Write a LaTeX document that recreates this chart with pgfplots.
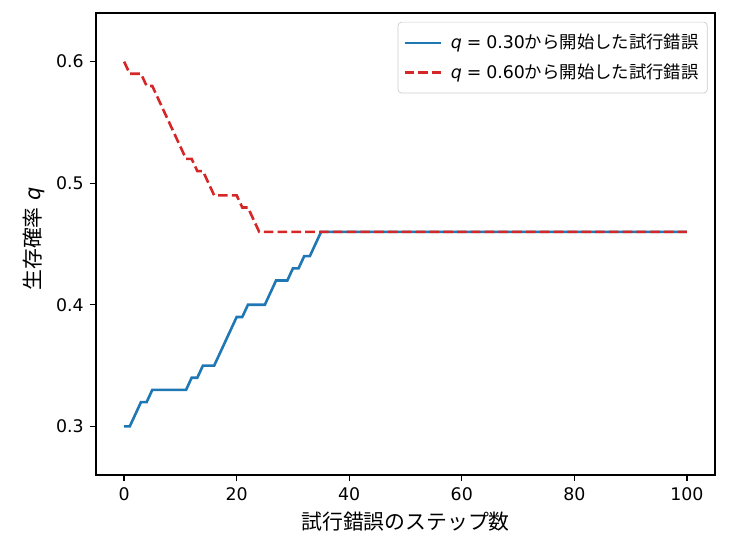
\documentclass[border=0pt]{standalone}
\usepackage{fontspec}
\setmainfont{DejaVu Sans}
\newfontfamily\jp{Noto Sans CJK JP}
\usepackage{pgfplots}
\pgfplotsset{compat=1.18}
\definecolor{tabblue}{HTML}{1F77B4}
\definecolor{tabred}{HTML}{D62728}
\begin{document}
\begin{tikzpicture}
\path[use as bounding box] (0,0) rectangle (422.784pt,309.312pt);
\begin{axis}[
  at={(55.296pt,35.712pt)}, anchor=south west,
  scale only axis, width=356.54pt, height=266.11pt,
  xmin=-5, xmax=105, ymin=0.26, ymax=0.64,
  xtick={0,20,40,60,80,100}, xticklabels={0,20,40,60,80,100},
  ytick={0.3,0.4,0.5,0.6}, yticklabels={0.3,0.4,0.5,0.6},
  tick align=outside, xtick pos=bottom, ytick pos=left,
  major tick length=3.5pt,
  every tick/.style={black, line width=0.8pt},
  axis line style={line width=0.8pt, black},
  /pgf/number format/assume math mode=true,
  ticklabel style={font=\fontsize{10}{12}\selectfont},
  xlabel={\jp 試行錯誤のステップ数},
  ylabel={{\jp 生存確率} \textit{q}},
  xlabel style={at={(axis description cs:0.5,0)}, anchor=center, yshift=-27pt, font=\fontsize{12}{14}\selectfont},
  ylabel style={at={(axis description cs:-0.101,0.511)}, anchor=center, rotate=0, font=\fontsize{12}{14}\selectfont},
  legend cell align=left,
  legend style={at={(axis description cs:0.988,0.981)}, anchor=north east,
    draw=black!20, rounded corners=2pt, fill=white, fill opacity=0.8, text opacity=1,
    font=\fontsize{10}{12}\selectfont, inner xsep=3pt, inner ysep=5pt, row sep=3pt,
    /tikz/every odd column/.append style={column sep=3pt}},
  legend image code/.code={\draw[#1, line width=1.5pt] (-2pt,0pt) -- (19pt,0pt);},
]
\addplot[tabblue, line width=1.5pt] coordinates {
(0,0.30) (1,0.30) (2,0.31) (3,0.32) (4,0.32) (5,0.33) (6,0.33) (7,0.33) (8,0.33) (9,0.33) (10,0.33)
(11,0.33) (12,0.34) (13,0.34) (14,0.35) (15,0.35) (16,0.35) (17,0.36) (18,0.37) (19,0.38) (20,0.39)
(21,0.39) (22,0.40) (23,0.40) (24,0.40) (25,0.40) (26,0.41) (27,0.42) (28,0.42) (29,0.42) (30,0.43)
(31,0.43) (32,0.44) (33,0.44) (34,0.45) (35,0.46) (100,0.46)
};
\addlegendentry{\textit{q}\hspace{0.28em}=\hspace{0.28em}0.30{\jp から開始した試行錯誤}}
\addplot[tabred, line width=1.5pt, dash pattern=on 5.55pt off 2.4pt] coordinates {
(0,0.60) (1,0.59) (2,0.59) (3,0.59) (4,0.58) (5,0.58) (6,0.57) (7,0.56) (8,0.55) (9,0.54) (10,0.53)
(11,0.52) (12,0.52) (13,0.51) (14,0.51) (15,0.50) (16,0.49) (17,0.49) (18,0.49) (19,0.49) (20,0.49)
(21,0.48) (22,0.48) (23,0.47) (24,0.46) (25,0.46) (30,0.46) (35,0.46) (100,0.46)
};
\addlegendentry{\textit{q}\hspace{0.28em}=\hspace{0.28em}0.60{\jp から開始した試行錯誤}}
\end{axis}
\end{tikzpicture}
\end{document}
